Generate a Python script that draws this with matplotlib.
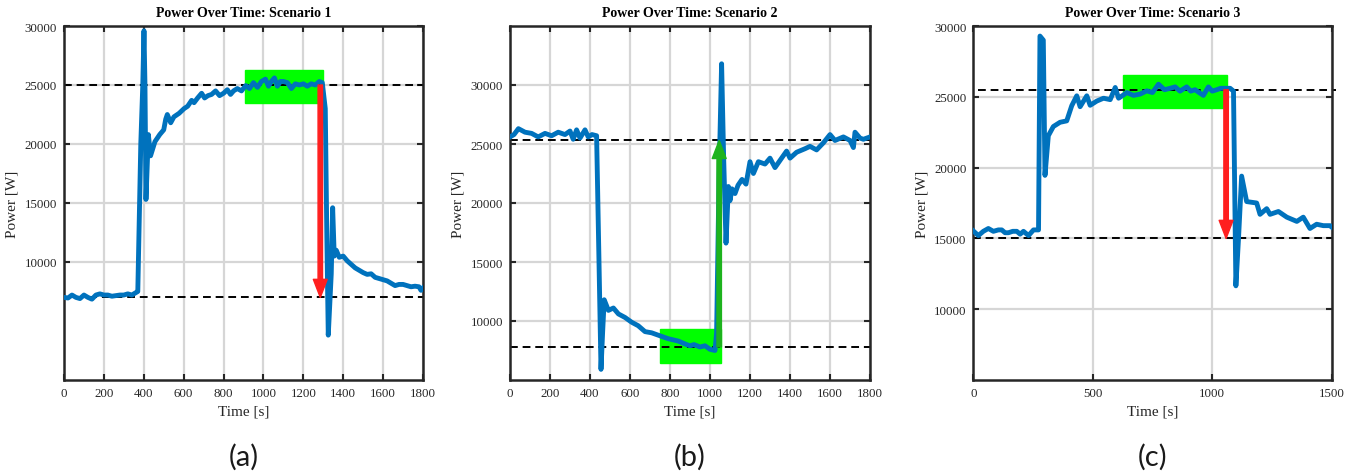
import numpy as np
import matplotlib.pyplot as plt
from matplotlib.patches import Rectangle, FancyArrowPatch

# Scenario 1
t1 = [0, 20, 40, 60, 80, 100, 120, 140, 160, 180, 200, 220, 240, 260, 280, 300, 320, 340, 360, 370,
      385, 395, 401, 406, 411, 423, 434, 456, 480, 500, 510, 518, 535, 551, 577, 602, 620, 640, 652,
      670, 690, 705, 722, 740, 760, 780, 800, 819, 835, 850, 869, 890, 911, 930, 950, 970, 990, 1010,
      1025, 1040, 1055, 1070, 1085, 1100, 1120, 1140, 1160, 1180, 1200, 1220, 1240, 1260, 1280, 1295,
      1310, 1318, 1325, 1340, 1347, 1355, 1365, 1380, 1400, 1420, 1440, 1460, 1480, 1500, 1520, 1540,
      1560, 1580, 1600, 1620, 1640, 1660, 1680, 1700, 1720, 1740, 1760, 1780, 1790, 1800]
p1 = [7000, 6950, 7200, 7000, 6900, 7200, 7000, 6850, 7200, 7300, 7200, 7200, 7100, 7150, 7200, 7200, 7300, 7200, 7400, 7500,
      20000, 25000, 29600, 25000, 15300, 20800, 19000, 20200, 20800, 21200, 22100, 22500, 21800, 22300, 22600, 23000, 23200, 23700, 23500,
      23900, 24300, 23900, 24100, 24200, 24500, 24100, 24300, 24600, 24200, 24500, 24700, 24500, 24950, 24700, 25200, 24800, 25300, 25500,
      24900, 25300, 25600, 24900, 25300, 25300, 25200, 24700, 25100, 25000, 25100, 24900, 25100, 25000, 25300, 25200,
      23000, 12000, 3800, 9000, 14600, 10500, 11000, 10400, 10500, 10100, 9800, 9500, 9300, 9100, 8950, 9000,
      8700, 8600, 8500, 8400, 8200, 8000, 8100, 8100, 8000, 7900, 7950, 7900, 7600, 7800]

# Scenario 2
t2 = [0, 20, 42, 75, 108, 141, 175, 208, 241, 275, 300, 316, 333, 350, 375, 391, 410, 433,
      445, 455, 463, 471, 492, 517, 542, 575, 608, 641, 675, 708, 741, 791, 841, 883, 900, 920,
      950, 975, 1000, 1025, 1033, 1045, 1058, 1068, 1080, 1092, 1100, 1110, 1125, 1140, 1160, 1180,
      1200, 1217, 1242, 1275, 1300, 1325, 1358, 1383, 1400, 1433, 1475, 1500, 1533, 1567, 1600, 1625,
      1667, 1700, 1717, 1725, 1750, 1767, 1800]
p2 = [25600, 25800, 26300, 26000, 25900, 25600, 25900, 25700, 26000, 25800, 26100, 25400, 26200, 25500, 26200, 25600, 25800, 25700,
      15000, 5900, 9000, 11800, 10900, 11100, 10600, 10300, 9900, 9600, 9100, 9000, 8800, 8500, 8300, 8000, 7900, 8000,
      7800, 7900, 7600, 7500, 9000, 22000, 31800, 24000, 16600, 21400, 20200, 21200, 20800, 21500, 22000, 21600,
      23500, 22500, 23500, 23300, 23800, 23000, 23800, 24400, 23800, 24300, 24600, 24800, 24500, 25100, 25800, 25300,
      25600, 25300, 24700, 26000, 25500, 25400, 25600]

# Scenario 3
t3 = [0, 21, 42, 63, 84, 105, 119, 133, 147, 165, 182, 196, 210, 231, 252, 273, 279, 293, 300,
      314, 335, 363, 391, 412, 433, 447, 475, 489, 517, 545, 573, 594, 608, 643, 670, 698, 726,
      750, 775, 800, 824, 845, 865, 893, 910, 928, 945, 963, 984, 1000, 1019, 1035, 1054, 1075, 1089,
      1099, 1110, 1123, 1144, 1186, 1200, 1228, 1242, 1277, 1312, 1354, 1381, 1409, 1437, 1465, 1493, 1500]
p3 = [15530, 15200, 15500, 15700, 15500, 15600, 15600, 15400, 15400, 15500, 15500, 15300, 15500, 15200, 15600, 15600, 29290, 29000, 19450,
      22250, 22900, 23200, 23300, 24370, 25070, 24300, 25070, 24400, 24700, 24900, 24800, 25660, 24900, 25300, 25100, 25190, 25420,
      25300, 25890, 25500, 25600, 25700, 25400, 25700, 25400, 25500, 25300, 25100, 25700, 25400, 25500, 25600, 25600, 25600, 25400,
      11650, 15000, 19400, 17600, 17500, 16700, 17100, 16700, 16900, 16500, 16200, 16500, 15700, 16000, 15900, 15900, 15800]

titles = ["Power Over Time: Scenario 1", "Power Over Time: Scenario 2", "Power Over Time: Scenario 3"]
captions = ["(a)", "(b)", "(c)"]
levels = [(25000, 7000), (25300, 7800), (25500, 15000)]
boxes = [(910, 23450, 390, 2850), (750, 6470, 303, 2850), (625, 24180, 435, 2350)]
arrows = [(1285, 25000, 7000), (1046, 7800, 25300), (1058, 25500, 15000)]
arrow_colors = ["#ff1f1f", "#1db31d", "#ff1f1f"]
xlims = [(0, 1800), (0, 1800), (0, 1500)]
ylims = [(0, 30000), (5000, 35000), (5000, 30000)]
xticks = [np.arange(0, 1801, 200), np.arange(0, 1801, 200), [0, 500, 1000, 1500]]

plt.rcParams['font.family'] = ['Liberation Serif', 'DejaVu Serif']

fig = plt.figure(figsize=(13.54, 4.77), dpi=100)
lefts = [64 / 1354, 510 / 1354, 973.3 / 1354]
widths = [359 / 1354, 360 / 1354, 358.4 / 1354]
data = [(t1, p1), (t2, p2), (t3, p3)]

for i in range(3):
    ax = fig.add_axes([lefts[i], 96 / 477, widths[i], 354 / 477])
    t, p = data[i]
    ax.grid(True, color="#d6d6d6", linewidth=1.6, zorder=0)
    ax.set_axisbelow(True)
    bx, by, bw, bh = boxes[i]
    ax.add_patch(Rectangle((bx, by), bw, bh, color="#00ff00", zorder=1))
    hi, lo = levels[i]
    if i == 2:
        ax.plot([20, 1520], [hi, hi], "--", color="black", linewidth=1.4, dashes=(4, 2.5), zorder=2, clip_on=False)
    else:
        ax.axhline(hi, linestyle="--", color="black", linewidth=1.4, dashes=(4, 2.5), zorder=2)
    ax.axhline(lo, linestyle="--", color="black", linewidth=1.4, dashes=(4, 2.5), zorder=2)
    ax.plot(t, p, color="#0072bd", linewidth=3.5, solid_joinstyle="round", zorder=3)
    ax_x, y0, y1 = arrows[i]
    ax.add_patch(FancyArrowPatch((ax_x, y0), (ax_x, y1),
                                 arrowstyle="simple,head_width=10,head_length=13,tail_width=3.2",
                                 color=arrow_colors[i], shrinkA=0, shrinkB=0, mutation_scale=1, zorder=4))
    ax.set_xlim(*xlims[i])
    ax.set_ylim(*ylims[i])
    ax.set_xticks(xticks[i])
    ax.set_yticks([10000, 15000, 20000, 25000, 30000])
    ax.tick_params(direction="in", length=4, width=1.5, top=True, right=True,
                   labelsize=9.3, colors="#262626", pad=5)
    for s in ax.spines.values():
        s.set_linewidth(1.8)
        s.set_color("#262626")
    ax.set_title(titles[i], fontsize=10, fontweight="bold", pad=7)
    ax.set_xlabel("Time [s]", fontsize=11, color="#262626", labelpad=4)
    ax.set_ylabel("Power [W]", fontsize=11, color="#262626")
    fig.text(lefts[i] + widths[i] / 2, 20 / 477, captions[i], fontsize=21,
             family=["Lato", "DejaVu Sans"], ha="center", va="center", color="#1a1a1a")

fig.savefig("out.png", dpi=100)
